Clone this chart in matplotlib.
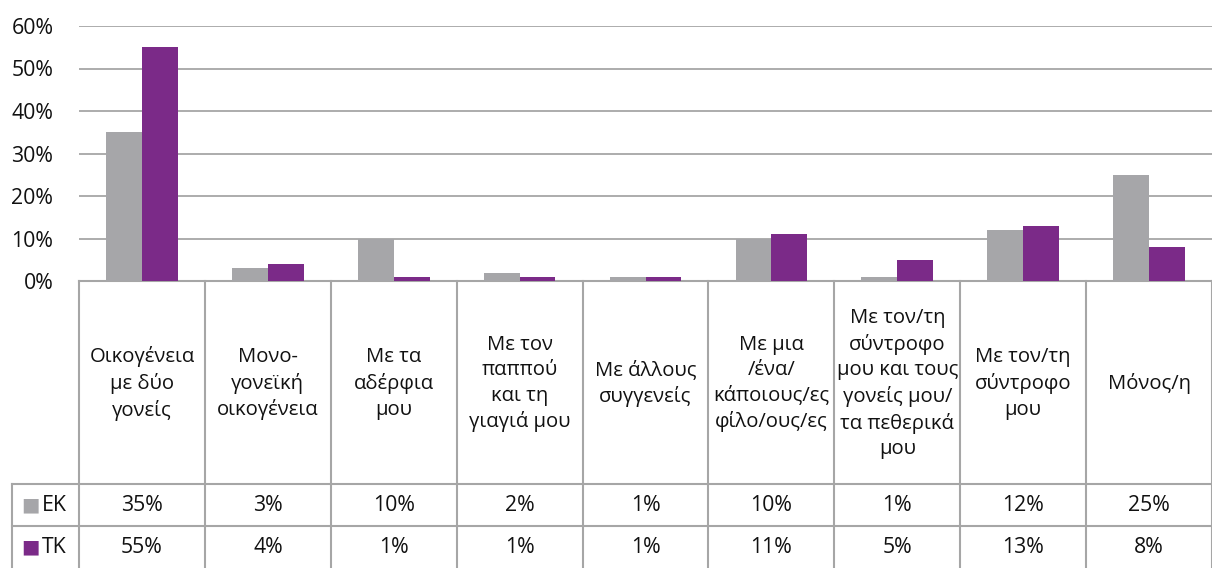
import matplotlib
matplotlib.use("Agg")
import matplotlib.pyplot as plt
import matplotlib.transforms as mtrans
import numpy as np

plt.rcParams['font.family'] = ['Open Sans', 'DejaVu Sans']

categories = [
    "Οικογένεια\nμε δύο\nγονείς",
    "Μονο-\nγονεϊκή\nοικογένεια",
    "Με τα\nαδέρφια\nμου",
    "Με τον\nπαππού\nκαι τη\nγιαγιά μου",
    "Με άλλους\nσυγγενείς",
    "Με μια\n/ένα/\nκάποιους/ες\nφίλο/ους/ες",
    "Με τον/τη\nσύντροφο\nμου και τους\nγονείς μου/\nτα πεθερικά\nμου",
    "Με τον/τη\nσύντροφο\nμου",
    "Μόνος/η",
]
series_names = ["ΕΚ", "ΤΚ"]
ek = [35, 3, 10, 2, 1, 10, 1, 12, 25]
tk = [55, 4, 1, 1, 1, 11, 5, 13, 8]
colors = ["#A6A6A9", "#7B2A88"]
yticks = [0, 10, 20, 30, 40, 50, 60]

W, H = 1212, 568
fs = 15.3
txt_c = "#111111"
fig = plt.figure(figsize=(W / 100, H / 100), dpi=100)
ax = fig.add_axes([79 / W, 1 - 281 / H, 1 - 79 / W, (281 - 26) / H])

x = np.arange(len(categories))
bw = 0.285
ax.bar(x - bw / 2, ek, bw, color=colors[0], zorder=3)
ax.bar(x + bw / 2, tk, bw, color=colors[1], zorder=3)

ax.set_xlim(-0.5, len(categories) - 0.5)
ax.set_ylim(0, 60)
ax.set_yticks(yticks)
ax.set_yticklabels([f"{v}%" for v in yticks], fontsize=fs, color=txt_c)
ax.tick_params(axis="y", length=0, pad=18.5)
ax.set_xticks([])
ax.grid(axis="y", color="#A6A6A6", linewidth=1.3, zorder=0)
for s in ax.spines.values():
    s.set_visible(False)

grid_c = "#A6A6A6"
lw = 1.5
ppx = 1 / (281 - 26)  # axes fraction per pixel
y_axis = 0
y_hdr = -(484 - 281) * ppx
y_r1 = -(526 - 281) * ppx
y_bot = -(568 - 281) * ppx
trans = mtrans.blended_transform_factory(ax.transData, ax.transAxes)
col_px = (W - 79) / len(categories)
left_cell = -0.5 - (79 - 12) / col_px

# table lines
ax.plot([-0.5, len(categories) - 0.5], [0, 0], color=grid_c, lw=lw, transform=trans, clip_on=False)
for y in (y_hdr, y_r1):
    ax.plot([left_cell, len(categories) - 0.5], [y, y], color=grid_c, lw=lw, transform=trans, clip_on=False)
for xb in np.arange(len(categories) + 1) - 0.5:
    ax.plot([xb, xb], [0, y_bot], color=grid_c, lw=lw, transform=trans, clip_on=False)
ax.plot([left_cell, left_cell], [y_hdr, y_bot], color=grid_c, lw=lw, transform=trans, clip_on=False)

# header labels
for i, lab in enumerate(categories):
    ax.text(i, (y_axis + y_hdr) / 2 - 1 * ppx, lab, transform=trans, ha="center", va="center",
            fontsize=14.6, linespacing=1.36, color=txt_c)

# data rows
for vals, name, c, (ytop, ybot) in zip([ek, tk], series_names, colors,
                                        [(y_hdr, y_r1), (y_r1, y_bot)]):
    ym = (ytop + ybot) / 2
    for i, v in enumerate(vals):
        ax.text(i, ym, f"{v}%", transform=trans, ha="center", va="center",
                fontsize=fs, color=txt_c)
    ax.text(left_cell + 9 / col_px, ym, "■", transform=trans, ha="left", va="center",
            fontsize=14, color=c, family="DejaVu Sans")
    ax.text(left_cell + 30 / col_px, ym, name, transform=trans, ha="left", va="center",
            fontsize=fs, color=txt_c)

fig.savefig("out.png", dpi=100)
